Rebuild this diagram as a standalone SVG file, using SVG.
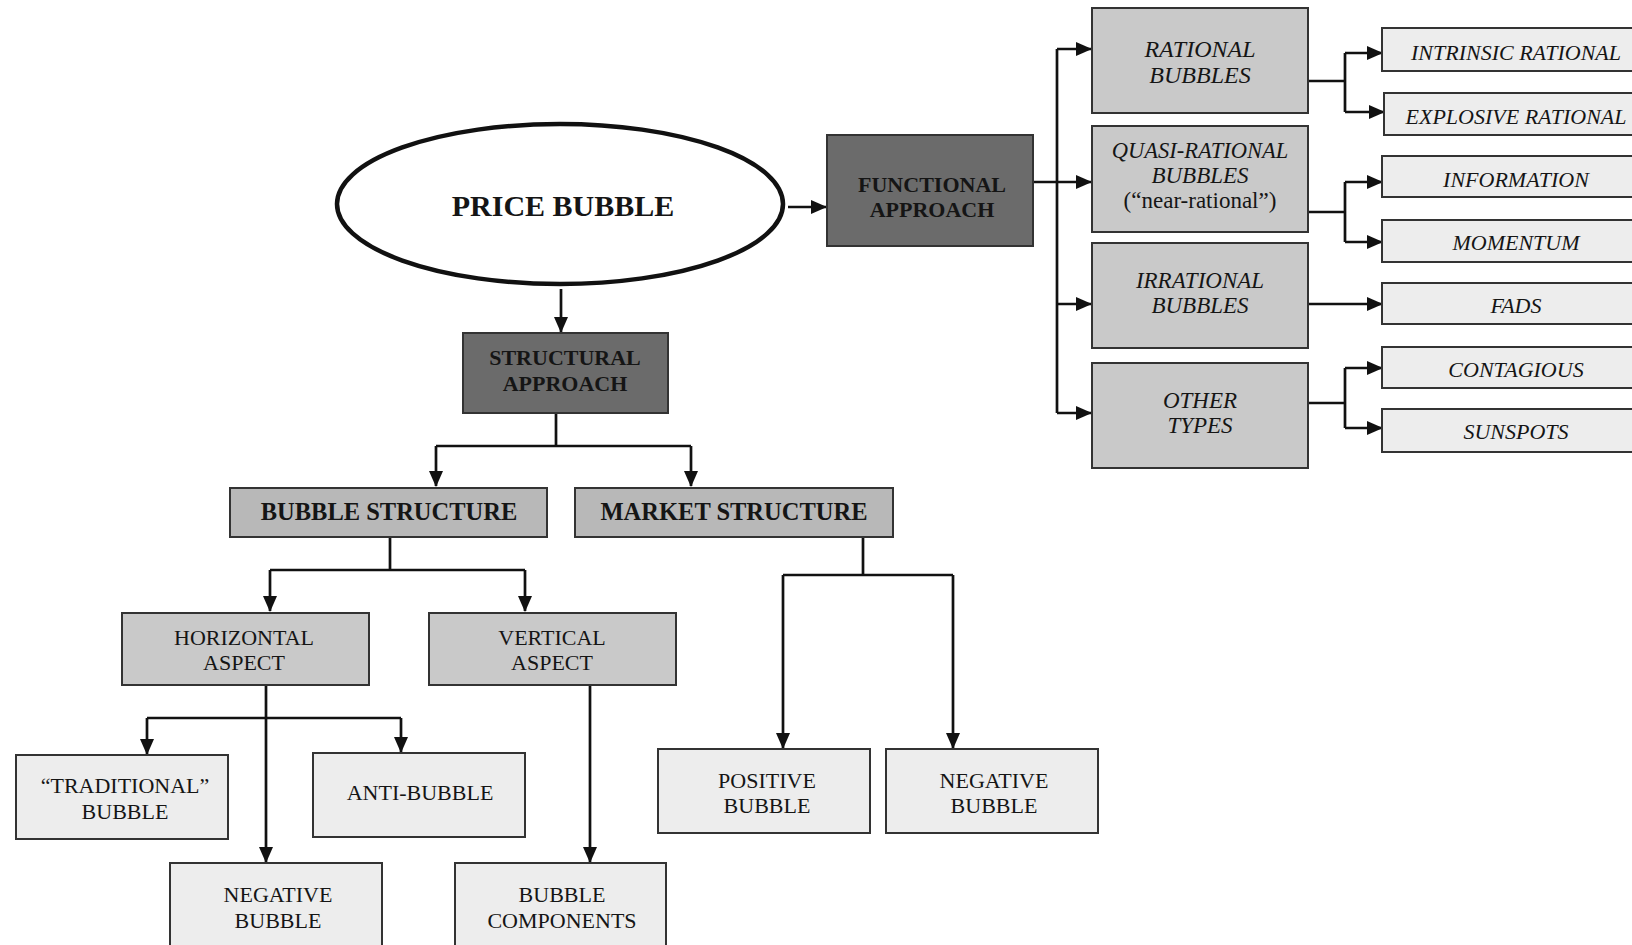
<svg xmlns="http://www.w3.org/2000/svg" width="1632" height="945" viewBox="0 0 1632 945">
<style>
text{font-family:"Liberation Serif","Times New Roman",serif;fill:#151515;text-anchor:middle}
.b{font-weight:bold}
.i{font-style:italic}
.dark{fill:#6b6b6b;stroke:#333;stroke-width:2}
.mid{fill:#b8b8b8;stroke:#333;stroke-width:2}
.gr{fill:#c9c9c9;stroke:#333;stroke-width:2}
.lt{fill:#ededed;stroke:#333;stroke-width:2}
.c{fill:none;stroke:#111;stroke-width:2.7}
.a{fill:none;stroke:#111;stroke-width:2.7;marker-end:url(#ah)}
</style>
<defs>
<marker id="ah" viewBox="0 0 16 14" refX="15" refY="7" markerWidth="16" markerHeight="14" markerUnits="userSpaceOnUse" orient="auto">
<path d="M0,0 L16,7 L0,14 z" fill="#111"/>
</marker>
</defs>
<rect width="1632" height="945" fill="#fff"/>

<g id="connectors">
<path class="a" d="M788,207 L826,207"/>
<path class="a" d="M561,289 L561,332"/>
<path class="c" d="M1033,182 L1057,182 M1057,49 L1057,413"/>
<path class="a" d="M1057,49 L1091,49"/>
<path class="a" d="M1057,182 L1091,182"/>
<path class="a" d="M1057,304 L1091,304"/>
<path class="a" d="M1057,413 L1091,413"/>
<path class="c" d="M1308,81 L1345,81 M1345,53 L1345,112"/>
<path class="a" d="M1345,53 L1382,53"/>
<path class="a" d="M1345,112 L1384,112"/>
<path class="c" d="M1308,212 L1345,212 M1345,182 L1345,242"/>
<path class="a" d="M1345,182 L1382,182"/>
<path class="a" d="M1345,242 L1382,242"/>
<path class="a" d="M1308,304 L1382,304"/>
<path class="c" d="M1308,403 L1345,403 M1345,368 L1345,428"/>
<path class="a" d="M1345,368 L1382,368"/>
<path class="a" d="M1345,428 L1382,428"/>
<path class="c" d="M556,413 L556,446 M436,446 L691,446"/>
<path class="a" d="M436,446 L436,486"/>
<path class="a" d="M691,446 L691,486"/>
<path class="c" d="M390,537 L390,570 M270,570 L525,570"/>
<path class="a" d="M270,570 L270,611"/>
<path class="a" d="M525,570 L525,611"/>
<path class="c" d="M863,537 L863,575 M783,575 L953,575"/>
<path class="a" d="M783,575 L783,748"/>
<path class="a" d="M953,575 L953,748"/>
<path class="a" d="M266,685 L266,862"/>
<path class="c" d="M147,718 L401,718"/>
<path class="a" d="M147,718 L147,754"/>
<path class="a" d="M401,718 L401,752"/>
<path class="a" d="M590,685 L590,862"/>
</g>

<g id="price-bubble">
<ellipse cx="560" cy="204" rx="223" ry="80" fill="#fff" stroke="#111" stroke-width="4.5"/>
<text class="b" x="563" y="216" font-size="30">PRICE BUBBLE</text>
</g>

<g id="functional-approach">
<rect class="dark" x="827" y="135" width="206" height="111"/>
<text class="b" x="932" y="192" font-size="22">FUNCTIONAL</text>
<text class="b" x="932" y="217" font-size="22">APPROACH</text>
</g>

<g id="rational-bubbles">
<rect class="gr" x="1092" y="8" width="216" height="105"/>
<text class="i" x="1200" y="57" font-size="24">RATIONAL</text>
<text class="i" x="1200" y="83" font-size="24">BUBBLES</text>
</g>
<g id="quasi-rational-bubbles">
<rect class="gr" x="1092" y="126" width="216" height="106"/>
<text class="i" x="1200" y="158" font-size="22.5">QUASI-RATIONAL</text>
<text class="i" x="1200" y="183" font-size="23">BUBBLES</text>
<text x="1200" y="208" font-size="23">(“near-rational”)</text>
</g>
<g id="irrational-bubbles">
<rect class="gr" x="1092" y="243" width="216" height="105"/>
<text class="i" x="1200" y="288" font-size="23">IRRATIONAL</text>
<text class="i" x="1200" y="313" font-size="23">BUBBLES</text>
</g>
<g id="other-types">
<rect class="gr" x="1092" y="363" width="216" height="105"/>
<text class="i" x="1200" y="408" font-size="23">OTHER</text>
<text class="i" x="1200" y="433" font-size="23">TYPES</text>
</g>

<g id="intrinsic-rational">
<rect class="lt" x="1382" y="28" width="280" height="43"/>
<text class="i" x="1516" y="60" font-size="22">INTRINSIC RATIONAL</text>
</g>
<g id="explosive-rational">
<rect class="lt" x="1384" y="93" width="280" height="42"/>
<text class="i" x="1516" y="124" font-size="22">EXPLOSIVE RATIONAL</text>
</g>
<g id="information">
<rect class="lt" x="1382" y="156" width="280" height="41"/>
<text class="i" x="1516" y="187" font-size="22">INFORMATION</text>
</g>
<g id="momentum">
<rect class="lt" x="1382" y="220" width="280" height="42"/>
<text class="i" x="1516" y="250" font-size="22">MOMENTUM</text>
</g>
<g id="fads">
<rect class="lt" x="1382" y="283" width="280" height="41"/>
<text class="i" x="1516" y="313" font-size="22">FADS</text>
</g>
<g id="contagious">
<rect class="lt" x="1382" y="347" width="280" height="41"/>
<text class="i" x="1516" y="377" font-size="22">CONTAGIOUS</text>
</g>
<g id="sunspots">
<rect class="lt" x="1382" y="409" width="280" height="43"/>
<text class="i" x="1516" y="439" font-size="22">SUNSPOTS</text>
</g>

<g id="structural-approach">
<rect class="dark" x="463" y="333" width="205" height="80"/>
<text class="b" x="565" y="365" font-size="22">STRUCTURAL</text>
<text class="b" x="565" y="391" font-size="22">APPROACH</text>
</g>

<g id="bubble-structure">
<rect class="mid" x="230" y="488" width="317" height="49"/>
<text class="b" x="389" y="520" font-size="24.5">BUBBLE STRUCTURE</text>
</g>
<g id="market-structure">
<rect class="mid" x="575" y="488" width="318" height="49"/>
<text class="b" x="734" y="520" font-size="24.5">MARKET STRUCTURE</text>
</g>

<g id="horizontal-aspect">
<rect class="gr" x="122" y="613" width="247" height="72"/>
<text x="244" y="645" font-size="22">HORIZONTAL</text>
<text x="244" y="670" font-size="22">ASPECT</text>
</g>
<g id="vertical-aspect">
<rect class="gr" x="429" y="613" width="247" height="72"/>
<text x="552" y="645" font-size="22">VERTICAL</text>
<text x="552" y="670" font-size="22">ASPECT</text>
</g>

<g id="traditional-bubble">
<rect class="lt" x="16" y="755" width="212" height="84"/>
<text x="125" y="793" font-size="22">“TRADITIONAL”</text>
<text x="125" y="819" font-size="22">BUBBLE</text>
</g>
<g id="anti-bubble">
<rect class="lt" x="313" y="753" width="212" height="84"/>
<text x="420" y="800" font-size="22">ANTI-BUBBLE</text>
</g>
<g id="negative-bubble-h">
<rect class="lt" x="170" y="863" width="212" height="100"/>
<text x="278" y="902" font-size="22">NEGATIVE</text>
<text x="278" y="928" font-size="22">BUBBLE</text>
</g>
<g id="bubble-components">
<rect class="lt" x="455" y="863" width="211" height="100"/>
<text x="562" y="902" font-size="22">BUBBLE</text>
<text x="562" y="928" font-size="22">COMPONENTS</text>
</g>

<g id="positive-bubble">
<rect class="lt" x="658" y="749" width="212" height="84"/>
<text x="767" y="788" font-size="22">POSITIVE</text>
<text x="767" y="813" font-size="22">BUBBLE</text>
</g>
<g id="negative-bubble-m">
<rect class="lt" x="886" y="749" width="212" height="84"/>
<text x="994" y="788" font-size="22">NEGATIVE</text>
<text x="994" y="813" font-size="22">BUBBLE</text>
</g>
</svg>
